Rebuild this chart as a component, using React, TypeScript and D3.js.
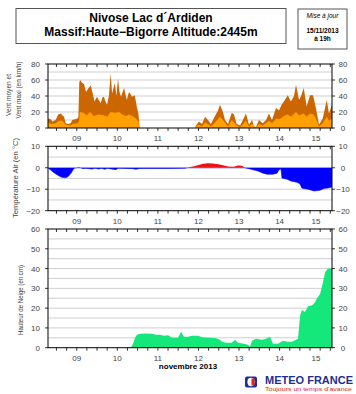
import React from "react";
import * as d3 from "d3";

// time origin: 8 Nov 2013 19h, end 15 Nov 2013 19h (hours offset)
const startDate = new Date(2013, 10, 8, 19);
const endDate = new Date(2013, 10, 15, 19);
const dayLabels = ["09", "10", "11", "12", "13", "14", "15"];

const windMaxHours = [0, 1.6, 2.6, 4.5, 6, 7.5, 8.5, 9.5, 10.4, 12, 13.4, 14.4, 16, 17.4, 18, 18.5, 19, 20, 21.3, 22.5, 24, 25.3, 26.6, 27.5, 29, 30, 31.2, 32.2, 33.1, 34, 34.9, 36, 37.1, 37.9, 39.5, 40.5, 41.4, 42.3, 43.2, 45, 46.6, 47.9, 49, 49.7, 51.3, 52.6, 53.5, 54.2,
  87, 87.5, 89.3, 91.1, 92.9, 94.6, 96.4, 98.8, 100.6, 101.7, 103.5, 104.7, 106.5, 108.7, 110, 111.6, 113.6, 115.3, 117.1, 118.9, 120.7, 121.9, 123, 124.8, 127, 129, 130.7, 132.5, 134.9, 136.6, 138.4, 139.6, 141.8, 143.7, 145.5, 146.7, 148.5, 149.7, 151.3, 153, 155, 156.8, 158.5, 160.3, 162.5, 164.9, 166.2, 168];
const windMax = [12, 11, 8, 10, 17, 18, 16, 14, 6, 5, 6, 10, 11, 12, 14, 57, 60, 57, 55, 45, 50, 53, 42, 33, 39, 35, 31, 38, 39, 33, 29, 40, 68, 43, 56, 40, 62, 45, 39, 50, 35, 45, 42, 39, 41, 26, 18, 0,
  0, 3, 8, 5, 14, 10, 5, 15, 22, 29, 20, 10, 5, 19, 17, 5, 3, 10, 18, 4, 10, 2, 1, 10, 6, 10, 18, 10, 25, 22, 30, 33, 41, 33, 40, 54, 35, 40, 50, 27, 41, 41, 25, 4, 12, 35, 18, 29];

const windMeanHours = [0, 2, 4.5, 6.5, 8.5, 10.4, 13.4, 14.4, 17.4, 18.3, 18.8, 21, 23, 25, 27, 30, 33, 35, 37, 40, 42, 44, 46, 48, 50, 52, 53.5, 54.2,
  87, 87.5, 89.3, 91.1, 92.9, 94.6, 96.4, 98.8, 101.7, 103.5, 106.5, 108.7, 111.6, 113.6, 117.1, 118.9, 120.7, 123, 124.8, 127, 130.7, 132.5, 134.9, 137, 139.6, 141.8, 143.7, 146.7, 148.5, 151.3, 153, 155, 157, 158.5, 160.3, 162.5, 164.9, 166.2, 168];
const windMean = [7, 5, 6, 9, 9, 4, 3, 5, 6, 8, 20, 19, 16, 20, 15, 17, 16, 14, 20, 19, 20, 17, 15, 17, 15, 12, 8, 0,
  0, 2, 4, 2, 7, 5, 2, 7, 14, 10, 2, 10, 3, 1, 9, 2, 5, 0.5, 5, 3, 9, 6, 12, 11, 15, 17, 14, 20, 16, 18, 14, 18, 17, 12, 2, 6, 14, 9, 12];

const tempHours = [0, 1.2, 3, 5.3, 7.7, 10, 11.8, 13.6, 15.4, 16.6, 18.3, 19.5, 20.7, 21.9, 26, 27.8, 30.2, 31.4, 33.7, 34.9, 40.2, 41.4, 50.3, 52, 54.4, 60, 72, 81, 82.8, 87, 91.7, 94.6, 97.6, 101.7, 106.5, 110, 112.4, 114.8, 116.5, 118.3, 120.7, 124.2, 127.2, 129.5, 133, 135.5, 136.6, 137.8, 138.4, 141.4, 143.7, 147.3, 149, 150.2, 153.8, 157.4, 160.9, 163.3, 165.6, 168];
const temp = [0, -0.8, -2, -3.2, -4.3, -4.7, -4.2, -2.5, -0.2, 0, 0.4, 0, -0.4, -0.2, -0.6, -0.2, -0.6, -0.2, -0.7, -0.2, -0.9, -0.2, -0.4, -0.7, -0.3, -0.3, -0.3, -0.2, 0.1, 0.8, 1.9, 2.1, 2.0, 1.5, 0.6, 0.5, 1.0, 0.9, 0, -0.3, -0.8, -1.5, -2.5, -3.0, -3.0, -2.5, -1.0, -0.5, -4.8, -5.3, -6.2, -6.8, -7.5, -9.5, -10, -10.8, -10.5, -9.6, -9.4, -9];

const snowHours = [0, 49.1, 50.3, 51.5, 52.6, 54.4, 58, 61.5, 63.9, 66.3, 68.6, 71, 73.4, 76.9, 78.7, 80.4, 82.8, 85.2, 88.7, 91.7, 95.8, 99.4, 101.7, 102.9, 105.3, 108.8, 110.6, 112.4, 115.9, 118.3, 119.5, 120.7, 123, 126.6, 129, 131.3, 133.1, 136, 139, 142, 144.3, 146.7, 147.9, 149.1, 150.2, 152, 153.8, 156.2, 158, 159.1, 160.9, 162.1, 163.9, 165.6, 168];
const snow = [0, 0, 2, 5, 6.5, 7, 7.2, 7, 6.5, 6.5, 6, 6.3, 5, 5, 8, 5.5, 5.5, 6, 6, 5.2, 5, 4.8, 4, 3, 2.5, 2.5, 4, 2.5, 2, 1.5, 0.5, 3.5, 4.5, 4, 4.5, 5.5, 2, 2, 3.5, 3, 3, 4, 4.5, 16, 19, 18, 21, 21.5, 23, 25, 27, 31, 38, 40, 40];

const windTicks = [0, 20, 40, 60, 80];
const tempTicks = [-20, -10, 0, 10];
const snowTicks = [0, 10, 20, 30, 40, 50, 60];

const FONT = "'Liberation Sans', Arial, Helvetica, sans-serif";
const X0 = 48, X1 = 332;

const toDate = (h: number) => new Date(startDate.getTime() + h * 3600e3);

export default function App() {
  const x = d3.scaleTime().domain([startDate, endDate]).range([X0, X1]);
  const yWind = d3.scaleLinear().domain([0, 80]).range([128, 64]);
  const yTemp = d3.scaleLinear().domain([-20, 10]).range([210.7, 146.3]);
  const ySnow = d3.scaleLinear().domain([0, 60]).range([347.7, 229]);

  const sixHours = d3.timeHour.every(6)!.range(startDate, d3.timeHour.offset(endDate, 1)).filter(d => d >= startDate && d <= endDate);
  const days = d3.timeDay.range(d3.timeDay.floor(startDate), endDate).filter(d => d.getDate() >= 9);

  const mkArea = (hours: number[], vals: number[], y: d3.ScaleLinear<number, number>, base = 0) =>
    d3.area<number>().x((_, i) => x(toDate(hours[i]))).y0(y(base)).y1((v) => y(v))(vals) || "";

  const panel = (y: d3.ScaleLinear<number, number>, grid: number[], ticks: number[], key: string) => {
    const [yb, yt] = y.range();
    return (
      <g key={key}>
        {grid.map(g => <line key={"g" + g} x1={X0} x2={X1} y1={y(g)} y2={y(g)} stroke="#cfcfcf" strokeWidth={1} />)}
        {sixHours.map((d, i) => (
          <g key={"t" + i}>
            <line x1={x(d)} x2={x(d)} y1={yt} y2={yt + 3} stroke="#000" strokeWidth={0.8} />
            <line x1={x(d)} x2={x(d)} y1={yb} y2={yb + 3} stroke="#000" strokeWidth={0.8} />
          </g>
        ))}
        {ticks.map(t => (
          <g key={"yt" + t}>
            <line x1={X0 - 3} x2={X0} y1={y(t)} y2={y(t)} stroke="#000" strokeWidth={0.8} />
            <line x1={X1} x2={X1 + 3} y1={y(t)} y2={y(t)} stroke="#000" strokeWidth={0.8} />
            <text x={40} y={y(t) + 3} textAnchor="end" fontSize={8} fill="#444" fontFamily={FONT}>{t < 0 ? "−" + Math.abs(t) : t}</text>
            <text x={343} y={y(t) + 3} textAnchor="middle" fontSize={8} fill="#444" fontFamily={FONT}>{t < 0 ? "−" + Math.abs(t) : t}</text>
          </g>
        ))}
        {days.map((d, i) => {
          const a = Math.max(x(d), X0);
          const b = Math.min(x(d3.timeDay.offset(d, 1)), X1);
          return <text key={"d" + i} x={(a + b) / 2} y={yb + 13} textAnchor="middle" fontSize={8} fill="#444" fontFamily={FONT}>{dayLabels[i]}</text>;
        })}
      </g>
    );
  };

  const frame = (y: d3.ScaleLinear<number, number>) => {
    const [yb, yt] = y.range();
    return <rect x={X0} y={yt} width={X1 - X0} height={yb - yt} fill="none" stroke="#000" strokeWidth={1} />;
  };

  const t0 = yTemp(0);

  return (
    <svg width={356} height={394} style={{ position: "absolute", left: 0, top: 0, background: "#fff" }} fontFamily={FONT}>
      <defs>
        <clipPath id="above"><rect x={X0} y={146} width={X1 - X0} height={t0 - 146} /></clipPath>
        <clipPath id="below"><rect x={X0} y={t0} width={X1 - X0} height={211 - t0} /></clipPath>
      </defs>
      {/* Title boxes */}
      <rect x={16} y={8.5} width={270} height={35} fill="#fff" stroke="#555" strokeWidth={1} />
      <text x={151} y={21.5} textAnchor="middle" fontSize={12} fontWeight="bold" fill="#000">Nivose Lac d´Ardiden</text>
      <text x={151} y={36} textAnchor="middle" fontSize={12} fontWeight="bold" fill="#000">Massif:Haute−Bigorre Altitude:2445m</text>
      <rect x={298} y={9} width={49} height={40} fill="#fff" stroke="#555" strokeWidth={1} />
      <text x={322.5} y={18} textAnchor="middle" fontSize={6.5} fontStyle="italic" fill="#000">Mise à jour</text>
      <text x={322.5} y={33} textAnchor="middle" fontSize={6.5} fontWeight="bold" fill="#000">15/11/2013</text>
      <text x={322.5} y={40.5} textAnchor="middle" fontSize={6.5} fontWeight="bold" fill="#000">à 19h</text>

      {/* Wind panel */}
      {panel(yWind, [10, 20, 30, 40, 50, 60, 70], windTicks, "w")}
      <path d={mkArea(windMaxHours, windMax, yWind)} fill="#cc6600" />
      <path d={mkArea(windMeanHours, windMean, yWind)} fill="#ff9f00" />
      {frame(yWind)}

      {/* Temperature panel */}
      {panel(yTemp, [-15, -10, -5, 0, 5], tempTicks, "t")}
      <path d={mkArea(tempHours, temp, yTemp)} fill="#ee1111" clipPath="url(#above)" />
      <path d={mkArea(tempHours, temp, yTemp)} fill="#0000ff" stroke="#0000ff" strokeWidth={0.6} clipPath="url(#below)" />
      {frame(yTemp)}

      {/* Snow panel */}
      {panel(ySnow, [5, 10, 15, 20, 25, 30, 35, 40, 45, 50, 55], snowTicks, "s")}
      <path d={mkArea(snowHours, snow, ySnow)} fill="#14e87a" />
      {frame(ySnow)}

      <text x={188} y={368.5} textAnchor="middle" fontSize={8} fontWeight="bold" fill="#000">novembre 2013</text>

      {/* Y titles */}
      <text transform="translate(10.5,95) rotate(-90)" textAnchor="middle" fontSize={7} fill="#444" textLength={42} lengthAdjust="spacingAndGlyphs">Vent moyen et</text>
      <text transform="translate(21,90) rotate(-90)" textAnchor="middle" fontSize={7} fill="#444" textLength={57} lengthAdjust="spacingAndGlyphs">Vent maxi (en km/h)</text>
      <text transform="translate(18,178) rotate(-90)" textAnchor="middle" fontSize={7.5} fill="#444" textLength={80} lengthAdjust="spacingAndGlyphs">Température Air (en °C)</text>
      <text transform="translate(23,300) rotate(-90)" textAnchor="middle" fontSize={7} fill="#444" textLength={70} lengthAdjust="spacingAndGlyphs">Hauteur de Neige (en cm)</text>

      {/* Logo */}
      <g>
        <rect x={245} y={376.5} width={12} height={11} rx={2} fill="#1d2f8f" />
        <ellipse cx={251} cy={382} rx={3.6} ry={4.2} fill="#fff" />
        <rect x={251.5} y={378.5} width={3} height={7} fill="#e2231a" />
        <text x={265} y={384} fontSize={10} fontWeight="bold" fill="#1d2f8f" textLength={88} lengthAdjust="spacingAndGlyphs">METEO FRANCE</text>
        <text x={265} y={390.5} fontSize={5.5} fill="#e2231a" textLength={87} lengthAdjust="spacingAndGlyphs">Toujours un temps d'avance</text>
      </g>
    </svg>
  );
}
